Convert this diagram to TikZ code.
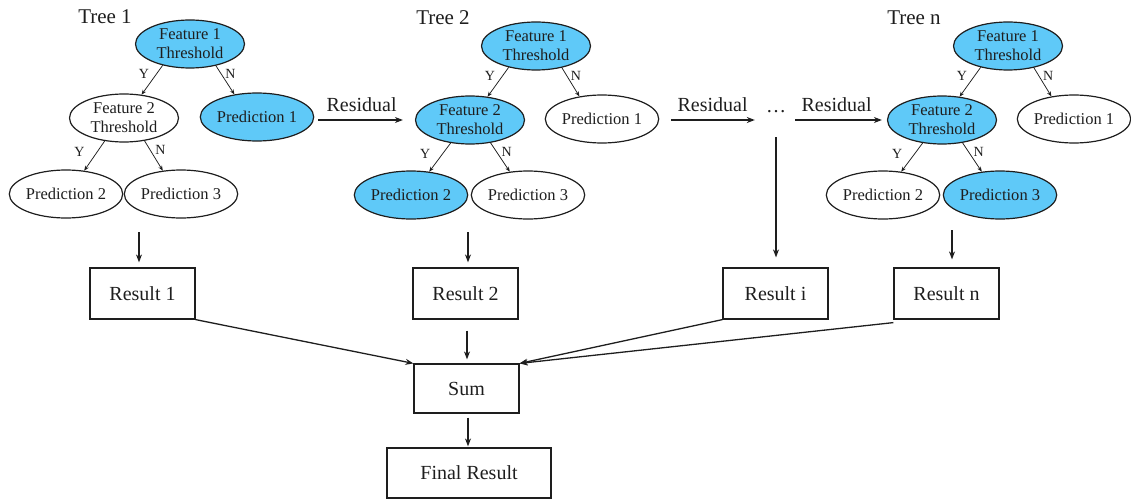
\documentclass[tikz,border=0pt]{standalone}
\usepackage{fontspec}
\setmainfont{Liberation Serif}
\usetikzlibrary{shapes.geometric,arrows.meta,calc}
\definecolor{nodeblue}{RGB}{95,201,248}
\definecolor{ink}{RGB}{30,30,30}

\begin{document}
\begin{tikzpicture}[x=1pt,y=-1pt,
  split/.style={ellipse, draw=ink, line width=1.2pt, minimum width=109pt, minimum height=48pt,
    inner sep=0pt, align=center, font=\fontsize{16.5}{19}\selectfont, text=ink},
  hot/.style={split, fill=nodeblue},
  cold/.style={split, fill=white},
  resbox/.style={draw=ink, line width=1.2pt, minimum width=105pt, minimum height=51pt,
    inner sep=0pt, font=\fontsize{20}{24}\selectfont, text=ink},
  branch/.style={draw=ink, line width=0.75pt, -{Stealth[length=5pt,width=4pt]}},
  flow/.style={draw=ink, line width=1.3pt, -{Stealth[length=8pt,width=6pt]}},
  yn/.style={font=\fontsize{14}{16}\selectfont, text=ink, inner sep=1pt},
  treelabel/.style={font=\fontsize{21}{24}\selectfont, text=ink, inner sep=0pt},
  resid/.style={font=\fontsize{20}{24}\selectfont, text=ink, inner sep=0pt},
]
\useasboundingbox (0,0) rectangle (1131,500);

% ---------- Tree 1 ----------
\node[treelabel] (lab1) at (105,17) {Tree 1};
\node[hot]  (t1f1) at (190,44) {Feature 1\\Threshold};
\node[cold] (t1f2) at ($(t1f1)+(-66,74)$) {Feature 2\\Threshold};
\node[hot]  (t1p1) at ($(t1f1)+(67,73)$) {Prediction 1};
\node[cold] (t1p2) at ($(t1f2)+(-58,76)$) {Prediction 2};
\node[cold] (t1p3) at ($(t1f2)+(57,76)$) {Prediction 3};

% ---------- Tree 2 ----------
\node[treelabel] (lab2) at (443,18) {Tree 2};
\node[hot]  (t2f1) at (536,46) {Feature 1\\Threshold};
\node[hot]  (t2f2) at ($(t2f1)+(-66,74)$) {Feature 2\\Threshold};
\node[cold] (t2p1) at ($(t2f1)+(66,73)$) {Prediction 1};
\node[hot]  (t2p2) at ($(t2f2)+(-59,75)$) {Prediction 2};
\node[cold] (t2p3) at ($(t2f2)+(58,75)$) {Prediction 3};

% ---------- Tree n ----------
\node[treelabel] (labn) at (914,18) {Tree n};
\node[hot]  (tnf1) at (1008,46) {Feature 1\\Threshold};
\node[hot]  (tnf2) at ($(tnf1)+(-66,74)$) {Feature 2\\Threshold};
\node[cold] (tnp1) at ($(tnf1)+(66,73)$) {Prediction 1};
\node[cold] (tnp2) at ($(tnf2)+(-59,75)$) {Prediction 2};
\node[hot]  (tnp3) at ($(tnf2)+(58,75)$) {Prediction 3};

% ---------- branches with Y / N labels ----------
\foreach \t in {t1,t2,tn}{
  \draw[branch] (\t f1.218) -- node[yn, pos=0.3, left=6pt]{Y} (\t f2.53);
  \draw[branch] (\t f1.320) -- node[yn, pos=0.27, right=3pt]{N} (\t p1.135);
  \draw[branch] (\t f2.230) -- node[yn, pos=0.38, left=11pt]{Y} (\t p2.52);
  \draw[branch] (\t f2.312) -- node[yn, pos=0.3, right=4pt]{N} (\t p3.128);
}

% ---------- residual chain ----------
\node[resid, anchor=base] (dots) at (776,113) {…};
\draw[flow, shorten <=4pt, shorten >=12pt] (t1p1.east |- t2f2) -- node[resid, above=8pt, xshift=-3pt]{Residual} (t2f2.west);
\draw[flow, shorten <=12pt, shorten >=11pt] (t2p1.east |- tnf2) -- node[resid, above=8pt]{Residual} (dots.west |- tnf2);
\draw[flow, shorten <=9pt, shorten >=5pt] (dots.east |- tnf2) -- node[resid, above=8pt]{Residual} (tnf2.west);

% ---------- results ----------
\node[resbox] (r1) at (142.5,293.5) {Result 1};
\node[resbox] (r2) at (465.5,293.5) {Result 2};
\node[resbox] (ri) at (775.5,293.5) {Result i};
\node[resbox] (rn) at (946.5,293.5) {Result n};
\node[resbox, minimum height=49pt] (sum) at (466.5,388.5) {Sum};
\node[resbox, minimum width=164pt, minimum height=50pt] (final) at (469,473) {Final Result};

\coordinate (a1) at (139,232);
\coordinate (a2) at (468,232);
\coordinate (an) at (952,230);
\draw[flow, shorten >=5pt] (a1) -- (a1 |- r1.north);
\draw[flow, shorten >=5pt] (a2) -- (a2 |- r2.north);
\draw[flow, shorten >=8pt] (an) -- (an |- rn.north);
\draw[flow, shorten <=24pt, shorten >=10pt] (dots.south) -- (dots.south |- ri.north);

\draw[flow] (r1.south east) -- (sum.north west);
\draw[flow] (ri.south west) -- (sum.north east);
\draw[flow] ([yshift=-3pt]rn.south west) -- (sum.north east);
\draw[flow, shorten <=11pt, shorten >=4pt] ([xshift=1.5pt]r2.south) -- ([xshift=1.5pt]r2.south |- sum.north);
\draw[flow, shorten <=4pt, shorten >=1pt] ([xshift=1.5pt]sum.south) -- ([xshift=1.5pt]sum.south |- final.north);
\end{tikzpicture}
\end{document}
